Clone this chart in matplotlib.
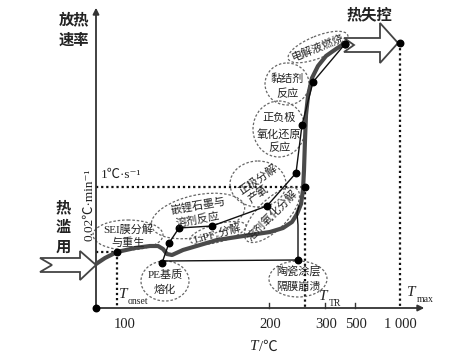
import matplotlib
matplotlib.use('Agg')
import matplotlib.pyplot as plt
from matplotlib.patches import Ellipse, Polygon

plt.rcParams['font.family'] = ['Liberation Serif', 'Noto Sans CJK SC', 'DejaVu Sans']

# schematic drawn in picture units (x right, y down)
main_x = [96, 105, 117, 135, 150, 158, 163, 167, 172, 183, 200, 217, 250, 270, 283, 292, 297, 301, 303,
          304, 305, 306, 308, 312, 318, 326, 336, 345]
main_y = [264, 258, 252, 248, 246, 246, 249, 254, 255, 250, 245, 240, 235, 232, 228, 222, 214, 204, 190,
          170, 140, 115, 96, 78, 66, 56, 49, 43]

chain_x = [162, 169, 179, 212, 267, 296, 302, 313, 345]
chain_y = [263, 243, 228, 226, 206, 173, 125, 82, 44]

sep_x = [162, 298, 298, 297, 299]
sep_y = [261, 260, 225, 213, 206]

dots_x = [117, 162, 169, 179, 212, 267, 296, 302, 313, 345, 305, 298, 400, 96]
dots_y = [252, 263, 243, 228, 226, 206, 173, 125, 82, 44, 187, 260, 43, 308]

tick_pos = [125, 270, 326, 356, 400]
tick_lbl = ['100', '200', '300', '500', '1 000']

# centre x, centre y, width, height, angle, text lines, line y, text rotation
bubbles = [
    (128, 235, 70, 30, 0, ['SEI膜分解', '与重生'], [229, 243], 0),
    (198, 216, 95, 42, 12, ['嵌锂石墨与', '溶剂反应'], [206, 220], 10),
    (218, 233, 58, 18, 15, ['LiPF₆分解'], [233], 15),
    (258, 184, 56, 46, 0, ['正极分解', '产氧'], [180, 194], 35),
    (272, 215, 72, 30, 45, ['溶剂氧化分解'], [215], 45),
    (165, 281, 48, 40, 0, ['PE基质', '熔化'], [275, 290], 0),
    (298, 279, 58, 36, 0, ['陶瓷涂层', '隔膜崩溃'], [272, 287], 0),
    (279, 129, 52, 56, 0, ['正负极', '氧化还原', '反应'], [118, 134, 148], 0),
    (287, 84, 44, 42, 0, ['黏结剂', '反应'], [79, 94], 0),
    (318, 47, 64, 22, 22, ['电解液燃烧'], [47], 22),
]

fig = plt.figure(figsize=(4.61, 3.58), dpi=100)
ax = fig.add_axes([0, 0, 1, 1])
ax.set_xlim(0, 461)
ax.set_ylim(358, 0)
ax.axis('off')

# axes
ax.annotate('', xy=(96, 5), xytext=(96, 309),
            arrowprops=dict(arrowstyle='-|>', color='#333', lw=1.3, mutation_scale=9))
ax.annotate('', xy=(427, 308), xytext=(95, 308),
            arrowprops=dict(arrowstyle='-|>', color='#333', lw=1.3, mutation_scale=9))
for p in tick_pos[1:4]:
    ax.plot([p - 1, p - 1], [308, 303], color='#333', lw=1)
for p, t in zip(tick_pos, tick_lbl):
    ax.text(p, 324, t, ha='center', va='center', fontsize=10.5, color='#222')

# reference dotted lines
dot = dict(ls=(0, (1, 1.3)), color='#111', lw=1.6)
ax.plot([96, 305], [187, 187], **dot)
ax.plot([96, 117], [252, 252], **dot)
ax.plot([117, 117], [252, 308], **dot)
ax.plot([305, 305], [187, 308], **dot)
ax.plot([400, 400], [43, 308], **dot)

# curves
ax.plot(main_x, main_y, color='#4a4a4a', lw=3, solid_capstyle='round', zorder=3)
ax.plot(chain_x, chain_y, color='#111', lw=1, zorder=4)
ax.plot(sep_x, sep_y, color='#111', lw=1, zorder=4)
ax.scatter(dots_x, dots_y, s=22, color='black', zorder=6)

# bubbles
for cx, cy, w, h, ang, lines, ys, rot in bubbles:
    ax.add_patch(Ellipse((cx, cy), w, h, angle=-ang, fill=False, ls=(0, (2, 1.5)),
                         ec='#666', lw=0.9, zorder=2))
    for s, yy in zip(lines, ys):
        ax.text(cx, yy, s, ha='center', va='center', fontsize=8, rotation=rot,
                color='#222', zorder=7)

# hollow arrows
left_arrow = [(40, 258), (80, 258), (80, 251), (96, 265), (80, 280), (80, 272), (40, 272), (52, 265)]
right_arrow = [(344, 38), (380, 38), (380, 23), (398, 43), (380, 63), (380, 52), (344, 52), (354, 45)]
ax.add_patch(Polygon(left_arrow, closed=True, fill=True, fc='white', ec='#444', lw=1.3, zorder=5))
ax.add_patch(Polygon(right_arrow, closed=True, fill=True, fc='white', ec='#444', lw=1.3, zorder=5))
ax.scatter([345], [44], s=22, color='black', zorder=6)

# labels
bold = dict(fontsize=11, fontweight='bold', color='#222', ha='center', va='center')
ax.text(74, 20, '放热', **bold)
ax.text(74, 41, '速率', **bold)
ax.text(369, 15, '热失控', **bold)
for s, yy in zip('热滥用', [208, 228, 248]):
    ax.text(63, yy, s, **bold)
ax.text(101, 175, '1℃·s⁻¹', fontsize=9.5, ha='left', va='center', color='#222')
ax.text(89, 205, '0.02℃·min⁻¹', fontsize=9.5, rotation=90, ha='center', va='center', color='#222')
ital = dict(fontsize=11, style='italic', ha='center', va='center', color='#222')
sub = dict(fontsize=7, ha='left', va='center', color='#222')
ax.text(123, 295, 'T', **ital)
ax.text(128, 302, 'onset', **sub)
ax.text(323, 296, 'T', **ital)
ax.text(329, 303, 'TR', **sub)
ax.text(411, 292, 'T', **ital)
ax.text(417, 299, 'max', **sub)
ax.text(254, 347, 'T', **ital)
ax.text(259, 347, '/℃', fontsize=10.5, ha='left', va='center', color='#222')

fig.savefig('out.png', dpi=100)
